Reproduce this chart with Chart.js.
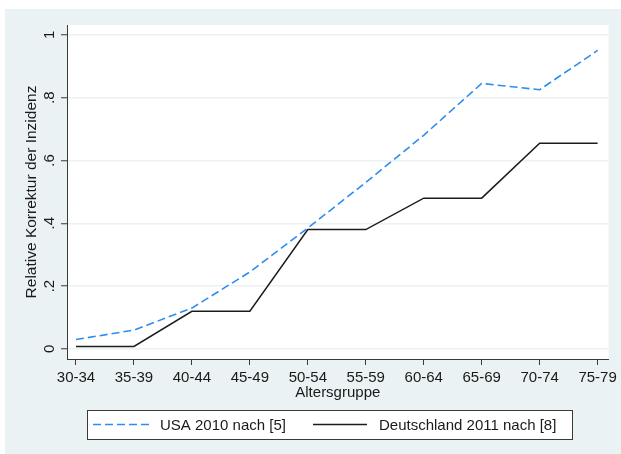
<!DOCTYPE html>
<html>
<head>
<meta charset="utf-8">
<title>Relative Korrektur der Inzidenz</title>
<style>
  html, body { margin: 0; padding: 0; background: #fff; }
  #kurve { display: block; }
</style>
</head>
<body>
<canvas id="kurve" width="621" height="454"></canvas>

<script src="https://cdn.jsdelivr.net/npm/chart.js@4/dist/chart.umd.min.js"></script>
<script>
// Altersgruppen und Werte
var gruppen = ['30-34', '35-39', '40-44', '45-49', '50-54', '55-59', '60-64', '65-69', '70-74', '75-79'];
var usa2010 = [0.03, 0.06, 0.13, 0.245, 0.385, 0.53, 0.68, 0.845, 0.825, 0.95];
var de2011 = [0.008, 0.008, 0.12, 0.12, 0.38, 0.38, 0.48, 0.48, 0.655, 0.655];
var yTicks = [0, 0.2, 0.4, 0.6, 0.8, 1];
var yTickTexte = ['0', '.2', '.4', '.6', '.8', '1'];

var SCHRIFT = '"Liberation Sans", Arial, sans-serif';
var HINTERGRUND = '#eaf2f3';
var TEXT = '#1a1a1a';

function punkte(werte) {
    var r = [];
    for (var i = 0; i < werte.length; ++i) r.push({x: i, y: werte[i]});
    return r;
}

// Hintergrund, gedrehte y-Beschriftung, Achsentitel und Legende
var stataLook = {
    id: 'stataLook',
    beforeDraw: function(chart) {
        var ctx = chart.ctx, a = chart.chartArea;
        ctx.save();
        ctx.fillStyle = '#ffffff';
        ctx.fillRect(0, 0, chart.width, chart.height);
        ctx.fillStyle = HINTERGRUND;
        ctx.fillRect(5, 9, chart.width - 5, chart.height - 9);
        ctx.fillStyle = '#ffffff';
        ctx.fillRect(a.left, a.top, a.right - a.left, a.bottom - a.top);
        ctx.restore();
    },
    afterDraw: function(chart) {
        var ctx = chart.ctx, a = chart.chartArea, ys = chart.scales.y;
        ctx.save();
        ctx.fillStyle = TEXT;
        ctx.font = '15px ' + SCHRIFT;
        ctx.textAlign = 'center';
        ctx.textBaseline = 'middle';

        // y-Achse: Beschriftung senkrecht
        for (var i = 0; i < yTicks.length; ++i) {
            ctx.save();
            ctx.translate(50, ys.getPixelForValue(yTicks[i]));
            ctx.rotate(-Math.PI / 2);
            ctx.fillText(yTickTexte[i], 0, 0);
            ctx.restore();
        }
        ctx.save();
        ctx.font = '15.5px ' + SCHRIFT;
        ctx.translate(32, (a.top + a.bottom) / 2);
        ctx.rotate(-Math.PI / 2);
        ctx.fillText('Relative Korrektur der Inzidenz', 0, 0);
        ctx.restore();

        ctx.fillText('Altersgruppe', (a.left + a.right) / 2, 393);

        // Legende
        var lx = 87, ly = 410, lw = 485, lh = 29, my = ly + lh / 2;
        ctx.fillStyle = '#ffffff';
        ctx.fillRect(lx, ly, lw, lh);
        ctx.strokeStyle = '#3a3a3a';
        ctx.lineWidth = 1;
        ctx.strokeRect(lx + 0.5, ly + 0.5, lw, lh);

        var ds = chart.data.datasets;
        var pos = [[93, 150, 160], [313, 367, 379]];
        for (var k = 0; k < ds.length; ++k) {
            ctx.beginPath();
            ctx.setLineDash(ds[k].borderDash || []);
            ctx.strokeStyle = ds[k].borderColor;
            ctx.lineWidth = ds[k].borderWidth;
            ctx.moveTo(pos[k][0], my);
            ctx.lineTo(pos[k][1], my);
            ctx.stroke();
            ctx.setLineDash([]);
            ctx.fillStyle = TEXT;
            ctx.textAlign = 'left';
            ctx.fillText(ds[k].label, pos[k][2], my + 1);
        }
        ctx.restore();
    }
};

var ctx = document.getElementById('kurve').getContext('2d');
var chart = new Chart(ctx, {
    type: 'line',
    data: {
        datasets: [{
            label: 'USA 2010 nach [5]',
            data: punkte(usa2010),
            borderColor: '#2f8cf0',
            borderWidth: 1.6,
            borderDash: [8, 4],
            pointRadius: 0,
            fill: false,
            tension: 0
        },
        {
            label: 'Deutschland 2011 nach [8]',
            data: punkte(de2011),
            borderColor: '#1c1c1c',
            borderWidth: 1.5,
            pointRadius: 0,
            fill: false,
            tension: 0
        }]
    },
    options: {
        responsive: false,
        animation: false,
        layout: { padding: { top: 25, right: 11, left: 0, bottom: 0 } },
        plugins: {
            legend: { display: false },
            tooltip: { enabled: false }
        },
        scales: {
            x: {
                type: 'linear',
                min: -0.155,
                max: 9.19,
                afterBuildTicks: function(s) {
                    s.ticks = gruppen.map(function(g, i) { return {value: i}; });
                },
                afterFit: function(s) { s.height = 95; },
                ticks: {
                    autoSkip: false,
                    maxRotation: 0,
                    padding: 4,
                    color: TEXT,
                    font: { family: SCHRIFT, size: 15 },
                    callback: function(v) { return gruppen[v]; }
                },
                grid: { drawOnChartArea: false, tickLength: 6, tickColor: '#3a3a3a', tickWidth: 1 },
                border: { color: '#3a3a3a', width: 1 }
            },
            y: {
                min: -0.032,
                max: 1.031,
                afterBuildTicks: function(s) {
                    s.ticks = yTicks.map(function(v) { return {value: v}; });
                },
                afterFit: function(s) { s.width = 67; },
                ticks: { display: false },
                grid: { color: HINTERGRUND, lineWidth: 1.5, tickLength: 6, tickColor: '#3a3a3a', tickWidth: 1 },
                border: { color: '#3a3a3a', width: 1 }
            }
        }
    },
    plugins: [stataLook]
});
</script>
</body>
</html>
